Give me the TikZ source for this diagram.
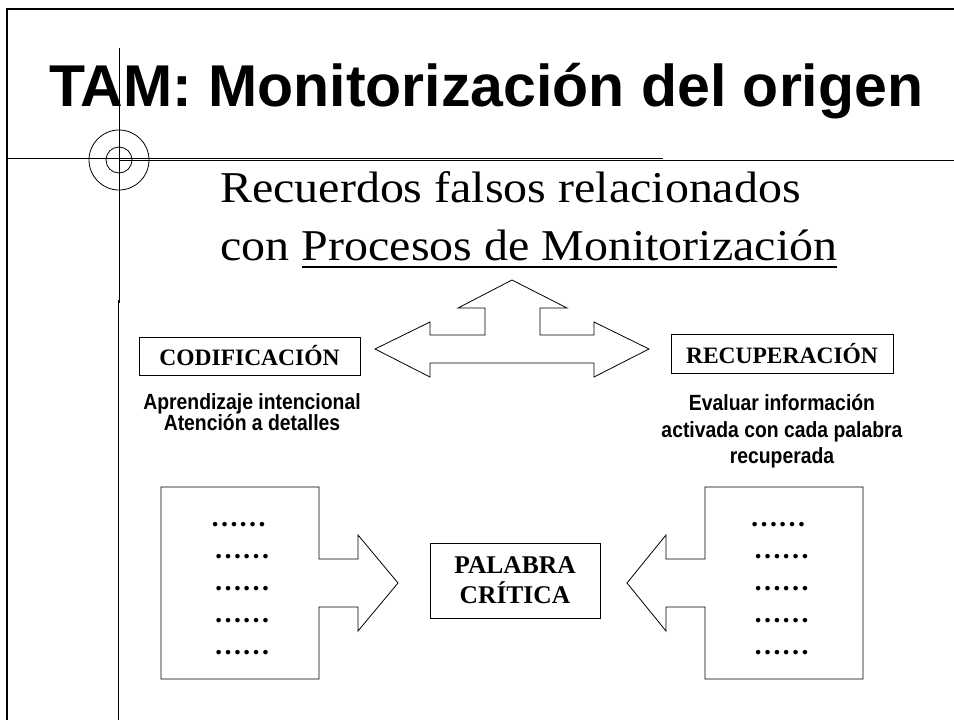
\documentclass[tikz,border=0pt]{standalone}
\usepackage{fontspec}
\usepackage{tikz}
\usetikzlibrary{positioning}
\setmainfont{Liberation Serif}
\newfontfamily\titlefont{Liberation Sans}
\newfontfamily\notefont[FakeStretch=0.88]{Liberation Sans}
\newfontfamily\subfont[FakeStretch=1.09]{Liberation Serif}

\tikzset{
  titletext/.style={font=\titlefont\bfseries\fontsize{59}{70}\selectfont, inner sep=0, anchor=base west},
  subtext/.style={font=\subfont\fontsize{44}{57}\selectfont, inner sep=0, anchor=base west},
  labelbox/.style={draw, line width=0.8pt, font=\bfseries\fontsize{23.5}{28}\selectfont, inner sep=0},
  notetext/.style={font=\notefont\bfseries\fontsize{22}{26}\selectfont, inner sep=0, anchor=base},
  dotrow/.style={font=\bfseries\fontsize{28}{32}\selectfont, inner sep=0, anchor=base},
  thinline/.style={line width=0.8pt}
}

\begin{document}
\begin{tikzpicture}[x=1pt, y=-1pt]
\useasboundingbox (0,0) rectangle (954,720);

% Draw the slide frame
\draw[line width=2.2pt] (7,720) -- (7,9) -- (954,9);

% Draw the guide lines and target mark
\draw[thinline] (7,158.5) -- (663,158.5);
\draw[thinline] (119,160.5) -- (954,160.5);
\draw[thinline] (119,48) -- (119,303);
\draw[thinline] (118,300) -- (118,720);
\draw[thinline] (119,160) circle (30);
\draw[thinline] (119,160) circle (13);

% Title and subtitle
\node[titletext] (title) at (49,106) {TAM: Monitorización del origen};
\node[subtext] (rec) at (220,202) {Recuerdos falsos relacionados};
\node[subtext] (con) at (220,260) {con};
\node[subtext, base right=12pt of con] (proc) {Procesos de Monitorización};
\draw[line width=2.4pt] ([yshift=-7pt]proc.base west) -- ([yshift=-7pt]proc.base east);

% Draw the three-way arrow
\draw[thinline] (375,349) -- (430,322) -- (430,335) -- (485,335) -- (485,308)
  -- (458,308) -- (512,280) -- (567,308) -- (540,308) -- (540,335) -- (594,335)
  -- (594,322) -- (649,349) -- (594,377) -- (594,363) -- (430,363) -- (430,377) -- cycle;

% Stage boxes
\node[labelbox, minimum width=221, minimum height=38] (codif) at (249.5,356) {CODIFICACIÓN};
\node[labelbox, minimum width=222, minimum height=39] (recup) at (782,353.5) {RECUPERACIÓN};

\node[notetext] (apren) at (252,409.5) {Aprendizaje intencional};
\node[notetext] (atenc) at (252,430.5) {Atención a detalles};
\node[notetext] (eval) at (782,410) {Evaluar información};
\node[notetext] (activ) at (782,437) {activada con cada palabra};
\node[notetext] (recupda) at (782,463) {recuperada};

% Draw the word lists with their arrows
\draw[thinline] (161,487) -- (319,487) -- (319,559) -- (358,559) -- (358,535)
  -- (398,583) -- (358,631) -- (358,607) -- (319,607) -- (319,679) -- (161,679) -- cycle;
\draw[thinline] (863,487) -- (705,487) -- (705,559) -- (666,559) -- (666,535)
  -- (627,583) -- (666,631) -- (666,607) -- (705,607) -- (705,679) -- (863,679) -- cycle;

\node[dotrow] (listL1) at (238.5,526) {……};
\node[dotrow] (listR1) at (778,526) {……};
\foreach \i in {2,...,5} {
  \node[dotrow] (listL\i) at (242,494+32*\i) {……};
  \node[dotrow] (listR\i) at (781.5,494+32*\i) {……};
}

% Critical word
\node[labelbox, align=center, minimum width=170, minimum height=75,
  font=\bfseries\fontsize{25.5}{30}\selectfont] (palabra) at (515,580.5) {PALABRA\\CRÍTICA};
\end{tikzpicture}
\end{document}
